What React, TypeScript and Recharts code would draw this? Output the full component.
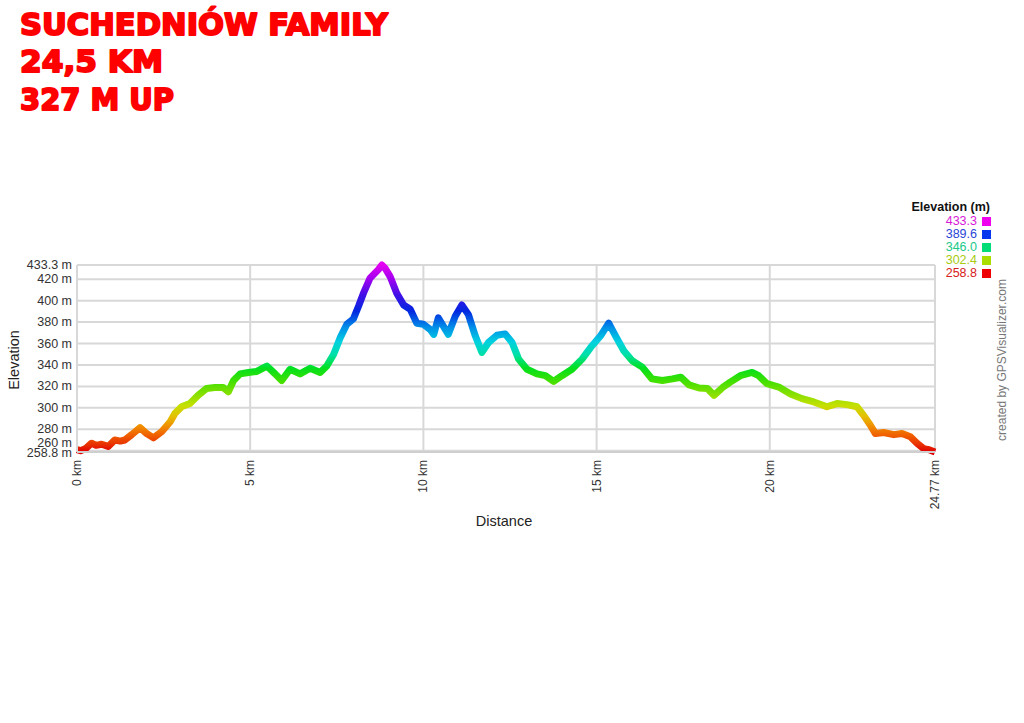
import React from 'react';
import { LineChart, Line, XAxis, YAxis, CartesianGrid } from 'recharts';

const distanceKm = [
  0.0, 0.1, 0.25, 0.42, 0.55, 0.71, 0.9, 1.09, 1.25, 1.38, 1.58, 1.82, 2.01, 2.21, 2.45, 2.69, 2.83,
  3.02, 3.26, 3.5, 3.74, 3.98, 4.22, 4.37, 4.52, 4.71, 4.95, 5.19, 5.48, 5.72, 5.91, 6.15, 6.44,
  6.73, 7.02, 7.21, 7.41, 7.6, 7.79, 7.98, 8.13, 8.27, 8.46, 8.7, 8.8, 8.9, 9.04, 9.23, 9.43, 9.62,
  9.81, 10.0, 10.2, 10.3, 10.43, 10.58, 10.72, 10.92, 11.11, 11.3, 11.5, 11.69, 11.88, 12.12, 12.36,
  12.56, 12.75, 12.99, 13.28, 13.52, 13.76, 14.0, 14.29, 14.58, 14.87, 15.11, 15.35, 15.55, 15.79,
  16.03, 16.32, 16.6, 16.9, 17.19, 17.43, 17.67, 17.96, 18.2, 18.39, 18.64, 18.86, 19.15, 19.49,
  19.68, 19.92, 20.26, 20.6, 20.93, 21.27, 21.65, 21.94, 22.23, 22.52, 22.71, 22.9, 23.05, 23.29,
  23.58, 23.82, 24.06, 24.25, 24.44, 24.6, 24.77,
];
const elevationM = [
  261, 260, 262, 267, 265, 266, 264, 270, 269, 270, 275, 281.5, 276, 272, 278, 287, 295,
  301, 304, 311.7, 318, 319, 319, 315, 325.5, 331.7, 333, 334, 339, 331.7, 325.5, 336, 331.7,
  337, 333, 339, 350, 365.5, 378, 383, 395, 407, 421, 429, 433.3, 430, 422.5, 407, 396, 392,
  379, 378, 373, 368.6, 384, 376, 368.6, 385.5, 396, 387, 367, 351.7, 361, 367.7, 369,
  361, 345.5, 336, 331.7, 330, 324.6, 330, 336, 345.5, 358, 367, 379, 367, 353,
  344, 338, 327, 325.5, 327, 328.6, 321.5, 318.5, 318, 311.7, 319, 324, 330, 333,
  330, 322.5, 319.4, 313, 308.6, 305.5, 301, 304, 303, 301, 293, 284, 276, 277,
  275, 276, 273, 267, 262, 261, 258.8,
];

const yTicks = [258.8, 260, 280, 300, 320, 340, 360, 380, 400, 420, 433.3];
const xTicks = [0, 5, 10, 15, 20, 24.77];
const titleLines = ['SUCHEDNIÓW FAMILY', '24,5 KM', '327 M UP'];
const legendValues = ['433.3', '389.6', '346.0', '302.4', '258.8'];
const legendTextColors = ['#d81ad8', '#2a46d8', '#20c98a', '#a8cc10', '#d82020'];
const legendBoxColors = ['#ee00ee', '#0636ee', '#00dd77', '#aadd00', '#ee0000'];

const gradientStops: [number, string][] = [
  [0, '#e400f0'],
  [0.076, '#a000f0'],
  [0.162, '#4010e6'],
  [0.248, '#0028e0'],
  [0.334, '#0090e8'],
  [0.41, '#00d0e0'],
  [0.48, '#00e0a8'],
  [0.55, '#00e020'],
  [0.62, '#40e000'],
  [0.7, '#90e000'],
  [0.75, '#c4e000'],
  [0.81, '#e4c000'],
  [0.86, '#f09000'],
  [0.91, '#f06000'],
  [0.96, '#e83000'],
  [1, '#e00000'],
];

const data = distanceKm.map((d, i) => ({ km: d, ele: elevationM[i] }));

const font = '"Liberation Sans", Arial, sans-serif';

const YTick = (props: any) => {
  const { x, y, payload } = props;
  const v = payload.value;
  const dy = v === 260 ? -8 : v === 258.8 ? 1 : 0;
  return (
    <text x={x} y={y + dy} dy={4} textAnchor="end" fontSize={12.5} fontFamily={font} fill="#333">
      {`${v} m`}
    </text>
  );
};

const XTick = (props: any) => {
  const { x, y, payload } = props;
  return (
    <text
      transform={`translate(${x + 4}, ${y + 8}) rotate(-90)`}
      textAnchor="end"
      fontSize={12}
      fontFamily={font}
      fill="#333"
    >
      {`${payload.value} km`}
    </text>
  );
};

export default function App() {
  return (
    <div
      style={{
        position: 'absolute',
        left: 0,
        top: 0,
        width: 1024,
        height: 723,
        background: '#fff',
        overflow: 'hidden',
        fontFamily: font,
      }}
    >
      <svg width={420} height={120} style={{ position: 'absolute', left: 0, top: 0 }}>
        {titleLines.map((t, i) => (
          <text
            key={t}
            x={20}
            y={[35, 72, 110][i]}
            fontFamily='"DejaVu Sans", sans-serif'
            fontWeight={700}
            fontSize={31}
            fill="#ff0000"
            stroke="#ff0000"
            strokeWidth={2}
            strokeLinejoin="round"
            textLength={[368, 143, 154][i]}
            lengthAdjust="spacingAndGlyphs"
          >
            {t}
          </text>
        ))}
      </svg>

      <div style={{ position: 'absolute', left: 0, top: 0 }}>
        <LineChart
          width={1024}
          height={560}
          data={data}
          margin={{ top: 265, right: 89, bottom: 48, left: 0 }}
        >
          <defs>
            <linearGradient id="eleGrad" x1="0" y1="0" x2="0" y2="1">
              {gradientStops.map(([o, c]) => (
                <stop key={o} offset={o} stopColor={c} />
              ))}
            </linearGradient>
          </defs>
          <CartesianGrid stroke="#d8d8d8" strokeWidth={2} />
          <XAxis
            dataKey="km"
            type="number"
            domain={[0, 24.77]}
            ticks={xTicks}
            height={60}
            tickLine={false}
            tickSize={0}
            tickMargin={0}
            axisLine={{ stroke: '#cfcfcf', strokeWidth: 2 }}
            tick={<XTick />}
            interval={0}
          />
          <YAxis
            type="number"
            domain={[258.8, 433.3]}
            ticks={yTicks}
            width={77}
            tickLine={false}
            tickSize={0}
            tickMargin={5}
            axisLine={{ stroke: '#d8d8d8', strokeWidth: 2 }}
            tick={<YTick />}
            interval={0}
          />
          <Line
            type="linear"
            dataKey="ele"
            stroke="url(#eleGrad)"
            strokeWidth={7}
            strokeLinejoin="round"
            dot={false}
            activeDot={false}
            isAnimationActive={false}
          />
        </LineChart>
      </div>

      <div
        style={{
          position: 'absolute',
          left: 14,
          top: 360,
          transform: 'translate(-50%, -50%) rotate(-90deg)',
          fontSize: 14.5,
          color: '#222',
          whiteSpace: 'nowrap',
        }}
      >
        Elevation
      </div>
      <div
        style={{
          position: 'absolute',
          left: 504,
          top: 521,
          transform: 'translate(-50%, -50%)',
          fontSize: 14.5,
          color: '#222',
          whiteSpace: 'nowrap',
        }}
      >
        Distance
      </div>

      <div
        style={{
          position: 'absolute',
          right: 1024 - 990,
          top: 200,
          fontSize: 12.5,
          fontWeight: 700,
          lineHeight: '14px',
          color: '#111',
          whiteSpace: 'nowrap',
        }}
      >
        Elevation (m)
      </div>
      {legendValues.map((v, i) => (
        <div
          key={v}
          style={{
            position: 'absolute',
            right: 1024 - 991,
            top: 215 + i * 13,
            display: 'flex',
            alignItems: 'center',
            height: 12,
          }}
        >
          <span style={{ fontSize: 12.5, color: legendTextColors[i], marginRight: 5, lineHeight: '12px' }}>{v}</span>
          <span style={{ width: 9, height: 9, background: legendBoxColors[i], display: 'inline-block' }} />
        </div>
      ))}

      <div
        style={{
          position: 'absolute',
          left: 1002,
          top: 360,
          transform: 'translate(-50%, -50%) rotate(-90deg)',
          fontSize: 12,
          color: '#777',
          whiteSpace: 'nowrap',
        }}
      >
        created by GPSVisualizer.com
      </div>
    </div>
  );
}
